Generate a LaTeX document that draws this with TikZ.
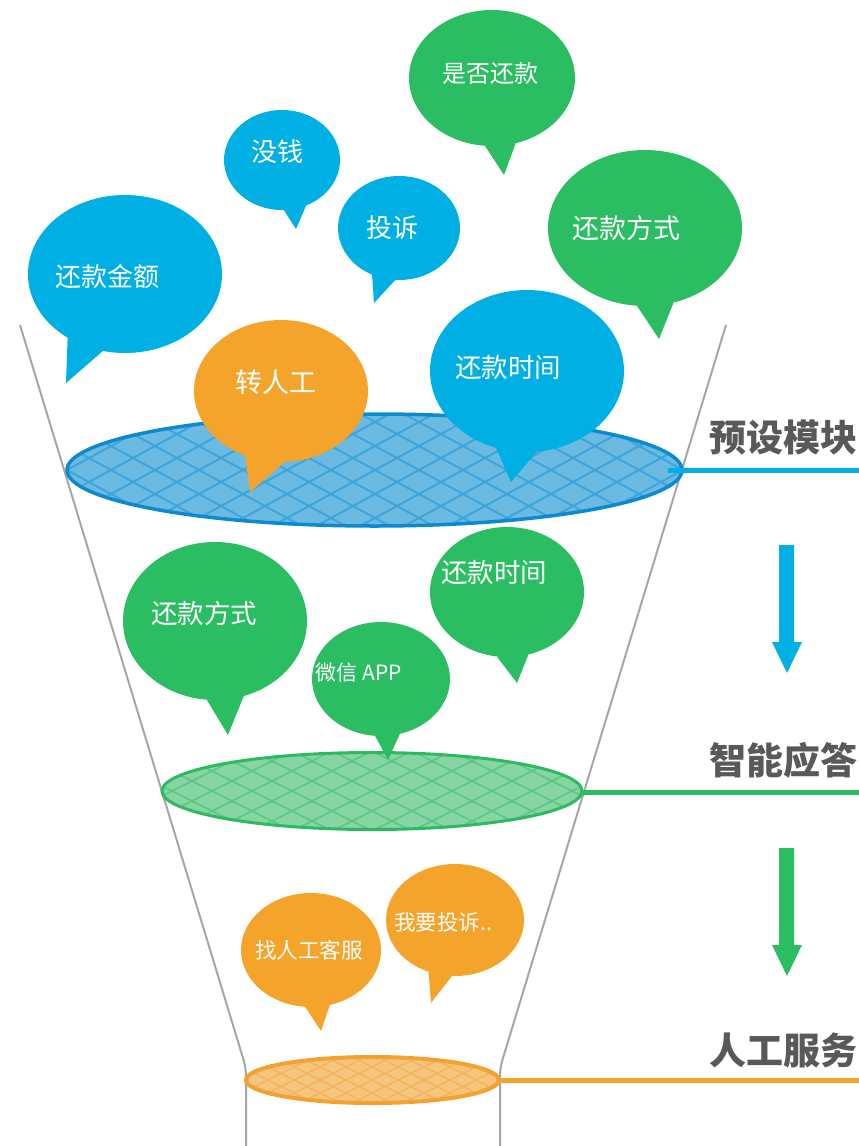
\documentclass[tikz,border=0pt]{standalone}
\usepackage{fontspec}
\usetikzlibrary{shapes.geometric}
\newfontfamily\cjk{Noto Sans CJK SC}
\definecolor{talkblue}{HTML}{00B0E4}
\definecolor{talkgreen}{HTML}{2ABD62}
\definecolor{talkorange}{HTML}{F5A42B}
\definecolor{diskblue}{HTML}{6ABAE2}
\definecolor{rimblue}{HTML}{0C8ACF}
\definecolor{hatchblue}{HTML}{3FA5DA}
\definecolor{diskgreen}{HTML}{86D5A3}
\definecolor{rimgreen}{HTML}{2DB95F}
\definecolor{hatchgreen}{HTML}{5DC785}
\definecolor{diskorange}{HTML}{F6C47D}
\definecolor{rimorange}{HTML}{F3A131}
\definecolor{hatchorange}{HTML}{F3B357}
\definecolor{funnelgray}{HTML}{A6A6A6}
\definecolor{headgray}{HTML}{595959}

\tikzset{
  bubble/.style={ellipse, inner sep=0pt, outer sep=0pt},
  talk/.style={font=\cjk\fontsize{#1}{#1}\selectfont, text=white, inner sep=0pt},
  heading/.style={font=\cjk\bfseries\fontsize{37pt}{37pt}\selectfont, text=headgray, anchor=east, inner sep=0pt},
  band/.style={line width=5pt},
  funnel/.style={draw=funnelgray, line width=2pt},
}

\begin{document}
\begin{tikzpicture}[x=1pt, y=-1pt]
	\useasboundingbox (0,0) rectangle (859,1146);

	\draw[funnel] (20,325) -- (243,1058) .. controls (246,1068) and (246,1072) .. (246,1080) -- (246,1146);
	\draw[funnel] (726,325) -- (503,1058) .. controls (500,1068) and (500,1072) .. (500,1080) -- (500,1146);

	\begin{scope}
		\clip (374.5,470) ellipse [x radius=307.5, y radius=56];
		\fill[diskblue] (374.5,470) ellipse [x radius=307.5, y radius=56];
		\foreach \k in {-11,...,11} {
			\draw[hatchblue, line width=2pt] ({375+\k*44-110},410) -- ({375+\k*44+110},530);
			\draw[hatchblue, line width=2pt] ({375+\k*44-110},530) -- ({375+\k*44+110},410);
		}
	\end{scope}
	\draw[rimblue, line width=3.5pt] (374.5,470) ellipse [x radius=307.5, y radius=56];

	\begin{scope}
		\clip (372,791) ellipse [x radius=210, y radius=38.5];
		\fill[diskgreen] (372,791) ellipse [x radius=210, y radius=38.5];
		\foreach \k in {-9,...,9} {
			\draw[hatchgreen, line width=1.6pt] ({372+\k*40-90},746) -- ({372+\k*40+90},836);
			\draw[hatchgreen, line width=1.6pt] ({372+\k*40-90},836) -- ({372+\k*40+90},746);
		}
	\end{scope}
	\draw[rimgreen, line width=3pt] (372,791) ellipse [x radius=210, y radius=38.5];

	\begin{scope}
		\clip (372.5,1080) ellipse [x radius=126.5, y radius=23];
		\fill[diskorange] (372.5,1080) ellipse [x radius=126.5, y radius=23];
		\foreach \k in {-8,...,8} {
			\draw[hatchorange, line width=1.2pt] ({372+\k*26-54},1053) -- ({372+\k*26+54},1107);
			\draw[hatchorange, line width=1.2pt] ({372+\k*26-54},1107) -- ({372+\k*26+54},1053);
		}
	\end{scope}
	\draw[rimorange, line width=4pt] (372.5,1080) ellipse [x radius=126.5, y radius=23];

	\coordinate (preset west) at (668,470);
	\coordinate (preset east) at (859,470);
	\coordinate (smart west) at (582,792);
	\coordinate (smart east) at (859,792);
	\coordinate (manual west) at (497,1080);
	\coordinate (manual east) at (859,1080);
	\draw[band, talkblue] (preset west) -- (preset east);
	\draw[band, talkgreen] (smart west) -- (smart east);
	\draw[band, talkorange] (manual west) -- (manual east);

	\node[heading] (preset) at (858,438) {预设模块};
	\node[heading] (smart) at (858,760) {智能应答};
	\node[heading] (manual) at (858,1050) {人工服务};

	\fill[talkblue] (779,545) -- (794,545) -- (794,642) -- (802,642) -- (787,673) -- (772,642) -- (779,642) -- cycle;
	\fill[talkgreen] (779,848) -- (794,848) -- (794,945) -- (802,945) -- (787,976) -- (772,945) -- (779,945) -- cycle;

	\node[bubble, fill=talkgreen, minimum width=166pt, minimum height=136pt] (ifpay) at (492,78) {};
	\fill[talkgreen] (ifpay.264) -- (504,175) -- (ifpay.290) -- cycle;
	\node[talk=24pt] at (490,73) {是否还款};

	\node[bubble, fill=talkblue, minimum width=116pt, minimum height=100pt] (nomoney) at (282,160) {};
	\fill[talkblue] (nomoney.272) -- (296,229) -- (nomoney.298) -- cycle;
	\node[talk=26pt] at (277,152) {没钱};

	\node[bubble, fill=talkblue, minimum width=122pt, minimum height=104pt] (complain) at (399,228) {};
	\fill[talkblue] (complain.240) -- (374,303) -- (complain.266) -- cycle;
	\node[talk=26pt] at (392,228) {投诉};

	\node[bubble, fill=talkblue, minimum width=194pt, minimum height=158pt] (amount) at (125,274) {};
	\fill[talkblue] (amount.228) -- (66,383) -- (amount.254) -- cycle;
	\node[talk=26pt] at (107,277) {还款金额};

	\node[bubble, fill=talkgreen, minimum width=194pt, minimum height=156pt] (method) at (645,228) {};
	\fill[talkgreen] (method.264) -- (659,339) -- (method.291) -- cycle;
	\node[talk=27pt] at (626,228) {还款方式};

	\node[bubble, fill=talkorange, minimum width=174pt, minimum height=142pt] (toagent) at (281,391) {};
	\fill[talkorange] (toagent.241) -- (250,492) -- (toagent.273) -- cycle;
	\node[talk=27pt] at (276,382) {转人工};

	\node[bubble, fill=talkblue, minimum width=194pt, minimum height=162pt] (paytime) at (527,371) {};
	\fill[talkblue] (paytime.248) -- (511,482) -- (paytime.277) -- cycle;
	\node[talk=26.5pt] at (508,367) {还款时间};

	\node[bubble, fill=talkgreen, minimum width=184pt, minimum height=158pt] (method2) at (215,621) {};
	\fill[talkgreen] (method2.264) -- (228,735) -- (method2.291) -- cycle;
	\node[talk=26.5pt] at (204,613) {还款方式};

	\node[bubble, fill=talkgreen, minimum width=154pt, minimum height=130pt] (paytime2) at (507,592) {};
	\fill[talkgreen] (paytime2.261) -- (517,683) -- (paytime2.289) -- cycle;
	\node[talk=26.5pt] at (494,572) {还款时间};

	\node[bubble, fill=talkgreen, minimum width=138pt, minimum height=114pt] (wechat) at (381,679) {};
	\fill[talkgreen] (wechat.264) -- (388,760) -- (wechat.289) -- cycle;
	\node[talk=21pt] at (359,673) {微信 APP};

	\node[bubble, fill=talkorange, minimum width=140pt, minimum height=114pt] (findagent) at (311,950) {};
	\fill[talkorange] (findagent.264) -- (321,1031) -- (findagent.289) -- cycle;
	\node[talk=21.5pt] at (309,950) {找人工客服};

	\node[bubble, fill=talkorange, minimum width=138pt, minimum height=112pt] (wantcomplain) at (455,920) {};
	\fill[talkorange] (wantcomplain.243) -- (431,1003) -- (wantcomplain.267) -- cycle;
	\node[talk=21.5pt] at (443,922) {我要投诉..};
\end{tikzpicture}
\end{document}
